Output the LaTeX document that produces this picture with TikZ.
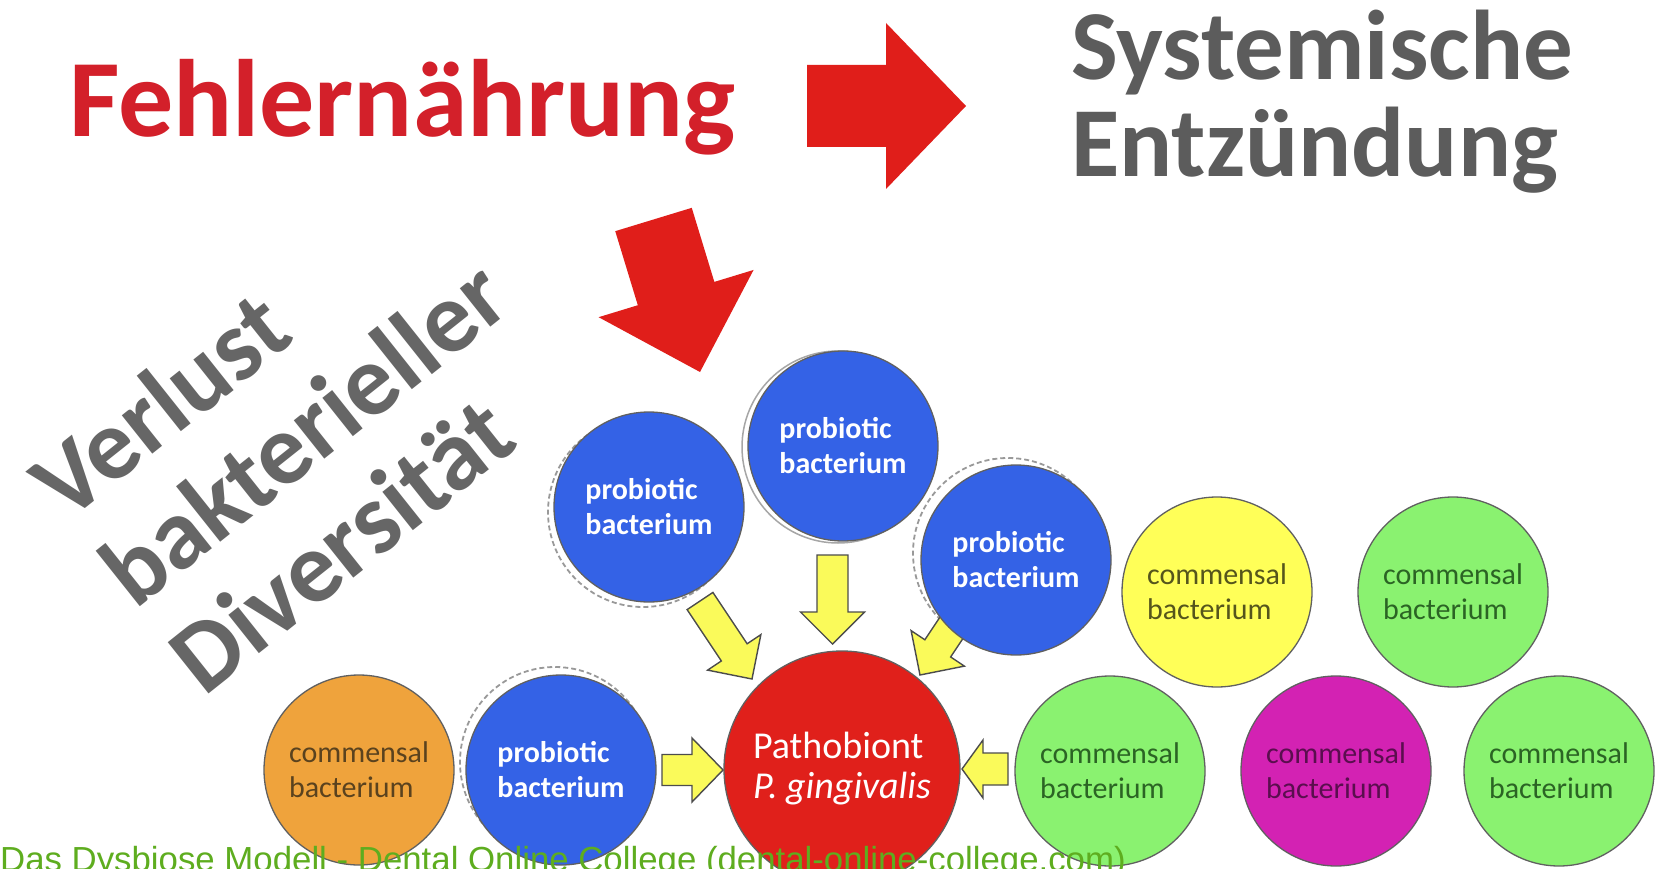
\documentclass[tikz,border=0pt]{standalone}
\usepackage{fontspec}
\setmainfont{Carlito}
\newfontfamily\footfont{Liberation Sans}
\usetikzlibrary{calc}
\definecolor{titlered}{HTML}{D3202A}
\definecolor{arrowred}{HTML}{E01E1A}
\definecolor{sysgray}{HTML}{5C5C5C}
\definecolor{rotgray}{HTML}{666666}
\definecolor{probblue}{HTML}{3462E6}
\definecolor{pathored}{HTML}{E0201B}
\definecolor{corange}{HTML}{EFA33C}
\definecolor{cyellow}{HTML}{FFFF58}
\definecolor{cgreen}{HTML}{8AF270}
\definecolor{cmagenta}{HTML}{D322B3}
\definecolor{ayellow}{HTML}{FAFA5A}
\definecolor{footgreen}{HTML}{5EAD1F}
\definecolor{txtyellow}{HTML}{55551C}
\definecolor{txtgreen}{HTML}{2B6424}
\definecolor{txtmag}{HTML}{5A0E4E}
\definecolor{txtorange}{HTML}{5A421E}
\tikzset{
  circ/.style={circle, draw=gray!75!black, line width=1.3pt, minimum size=190pt, inner sep=0pt, align=left},
  probio/.style={circ, fill=probblue, text=white, font=\bfseries\fontsize{30}{35}\selectfont},
  commens/.style={circ, font=\fontsize{30}{35}\selectfont},
  shadowdash/.style={circle, draw=gray!80, line width=1.8pt, dash pattern=on 5pt off 3pt, minimum size=190pt, inner sep=0pt},
  shadowsolid/.style={circle, draw=gray!70, line width=1.5pt, minimum size=192pt, inner sep=0pt},
  redarrow/.style={fill=arrowred, draw=none},
  yarrow/.style={fill=ayellow, draw=black!70, line width=1.4pt, line join=miter},
}
\newcommand{\blockarrow}[6]{%
  \coordinate (ba-h) at ($(#3)!#6!(#2)$);
  \path[#1] ($(#2)!#4!90:(#3)$) -- ($(ba-h)!#4!90:(#3)$) -- ($(ba-h)!#5!90:(#3)$) -- (#3)
    -- ($(ba-h)!#5!-90:(#3)$) -- ($(ba-h)!#4!-90:(#3)$) -- ($(#2)!#4!-90:(#3)$) -- cycle;
}
\begin{document}
\begin{tikzpicture}[x=1pt,y=-1pt]
\useasboundingbox[fill=white] (0,0) rectangle (1673,869);

% titles
\node[anchor=base west, inner sep=0pt, text=titlered, font=\bfseries\fontsize{110}{110}\selectfont] (fehl) at (69,137) {Fehlernährung};
\node[anchor=base west, inner sep=0pt, text=sysgray, font=\bfseries\fontsize{99}{99}\selectfont] (sys1) at (1071,80) {Systemische};
\node[anchor=base west, inner sep=0pt, text=sysgray, font=\bfseries\fontsize{99}{99}\selectfont] (sys2) at (1071,177) {Entzündung};
\node[rotate=38.5, align=left, inner sep=0pt, text=rotgray, font=\bfseries\fontsize{101}{111}\selectfont] (verl) at (303,432) {Verlust\\bakterieller\\Diversität};

% red arrows
\coordinate (r1s) at (807,106);
\coordinate (r1e) at (966,106);
\blockarrow{redarrow}{r1s}{r1e}{41pt}{83pt}{80pt}
\coordinate (r2s) at (653.5,219.5);
\coordinate (r2e) at (700,372);
\blockarrow{redarrow}{r2s}{r2e}{40pt}{81pt}{82pt}

% shadow circles
\node[shadowdash] (p1s) at (643,512) {};
\node[shadowsolid] (p2s) at (838,447) {};
\node[shadowdash] (p3s) at (1008,553) {};
\node[shadowdash] (p4s) at (555,762) {};

% pathobiont
\node[circ, minimum size=236pt, fill=pathored, text=white, font=\fontsize{38}{40}\selectfont] (patho) at (842,769) {Pathobiont\\\itshape P. gingivalis};

% yellow arrows
\coordinate (y1s) at (700,601);
\coordinate (y1e) at (752,679);
\blockarrow{yarrow}{y1s}{y1e}{15.5pt}{32pt}{32pt}
\coordinate (y2s) at (832.5,555);
\coordinate (y2e) at (832.5,644);
\blockarrow{yarrow}{y2s}{y2e}{15.5pt}{32pt}{32pt}
\coordinate (y3s) at (972,597);
\coordinate (y3e) at (920,675);
\blockarrow{yarrow}{y3s}{y3e}{15.5pt}{32pt}{32pt}
\coordinate (y4s) at (662,770);
\coordinate (y4e) at (723,770);
\blockarrow{yarrow}{y4s}{y4e}{15.5pt}{32pt}{31pt}
\coordinate (y5s) at (1008,769);
\coordinate (y5e) at (962,769);
\blockarrow{yarrow}{y5s}{y5e}{16pt}{29pt}{21pt}

% probiotic circles
\node[probio] (p1) at (649,507) {probiotic\\bacterium};
\node[probio] (p2) at (843,446) {probiotic\\bacterium};
\node[probio] (p3) at (1016,560) {probiotic\\bacterium};
\node[probio] (p4) at (561,770) {probiotic\\bacterium};

% commensal circles
\node[commens, fill=corange, text=txtorange] (c1) at (359,770) {commensal\\bacterium};
\node[commens, fill=cyellow, text=txtyellow] (c2) at (1217,592) {commensal\\bacterium};
\node[commens, fill=cgreen, text=txtgreen] (c3) at (1453,592) {commensal\\bacterium};
\node[commens, fill=cgreen, text=txtgreen] (c4) at (1110,771) {commensal\\bacterium};
\node[commens, fill=cmagenta, text=txtmag] (c5) at (1336,771) {commensal\\bacterium};
\node[commens, fill=cgreen, text=txtgreen] (c6) at (1559,771) {commensal\\bacterium};

% source line
\node[anchor=base west, inner sep=0pt, text=footgreen, font=\footfont\fontsize{34.8}{35}\selectfont] (src) at (0,871) {Das Dysbiose Modell - Dental Online College (dental-online-college.com)};
\end{tikzpicture}
\end{document}
